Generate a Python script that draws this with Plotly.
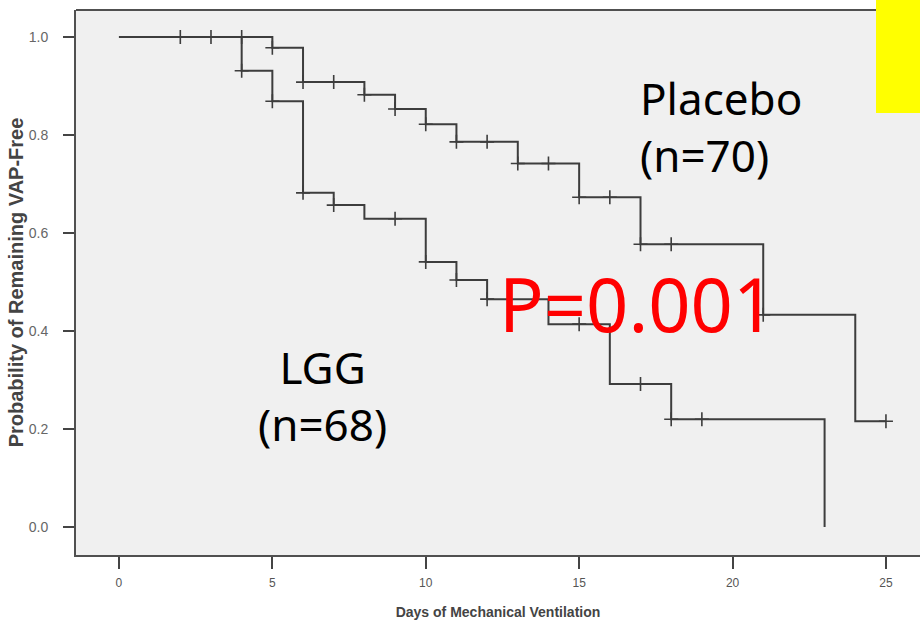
import plotly.graph_objects as go

# ---- data ----
placebo_times = [0, 5, 6, 8, 9, 10, 11, 13, 15, 17, 21, 24]
placebo_surv = [1.0, 0.978, 0.908, 0.882, 0.853, 0.822, 0.786, 0.742, 0.673, 0.577, 0.433, 0.216]
placebo_last = 25
placebo_censor = [2, 3, 4, 5, 6, 7, 8, 9, 10, 11, 12, 13, 14, 15, 16, 17, 18, 21, 25]

lgg_times = [0, 4, 5, 6, 7, 8, 10, 11, 12, 14, 16, 18, 23]
lgg_surv = [1.0, 0.931, 0.869, 0.682, 0.657, 0.629, 0.541, 0.504, 0.465, 0.414, 0.292, 0.220, 0.0]
lgg_last = 23
lgg_censor = [4, 5, 6, 7, 9, 10, 11, 12, 15, 17, 18, 19]

x_ticks = [0, 5, 10, 15, 20, 25]
y_ticks = [0.0, 0.2, 0.4, 0.6, 0.8, 1.0]
y_tick_labels = ["0.0", "0.2", "0.4", "0.6", "0.8", "1.0"]


def surv_at(times, surv, t):
    v = surv[0]
    for ti, si in zip(times, surv):
        if ti <= t:
            v = si
    return v


LINE = "#3d3d3d"
fig = go.Figure()

for times, surv, last, cens in [
    (placebo_times, placebo_surv, placebo_last, placebo_censor),
    (lgg_times, lgg_surv, lgg_last, lgg_censor),
]:
    xs = list(times) + ([last] if last > times[-1] else [])
    ys = list(surv) + ([surv[-1]] if last > times[-1] else [])
    fig.add_trace(go.Scatter(x=xs, y=ys, mode="lines", line=dict(shape="hv", color=LINE, width=2),
                             showlegend=False, hoverinfo="skip"))
    fig.add_trace(go.Scatter(x=cens, y=[surv_at(times, surv, t) for t in cens], mode="markers",
                             marker=dict(symbol="cross-thin", size=10, line=dict(width=1.6, color=LINE)),
                             showlegend=False, hoverinfo="skip"))

W, H = 920, 624
L, R, T, B = 76, 0, 10, 69
pw, ph = W - L - R, H - T - B


def px(x):
    return (x - L) / pw


def py(y):
    return (H - B - y) / ph


sans = "Liberation Sans, Arial"
comic = "Noto Sans, Open Sans, sans-serif"

fig.update_layout(
    width=W, height=H,
    margin=dict(l=L, r=R, t=T, b=B, pad=0),
    paper_bgcolor="white",
    plot_bgcolor="#f0f0f0",
    xaxis=dict(
        range=[-1.40, 26.11], tickvals=x_ticks, ticks="outside", ticklen=12, tickwidth=1.5,
        tickcolor="#444", showgrid=False, zeroline=False, showline=True, linecolor="#505050",
        linewidth=2, tickfont=dict(family=sans, size=12, color="#555"), ticklabelstandoff=4,
        title=dict(text="<b>Days of Mechanical Ventilation</b>", font=dict(family=sans, size=14, color="#444"),
                   standoff=18),
    ),
    yaxis=dict(
        range=[-0.0571, 1.0551], tickvals=y_ticks, ticktext=y_tick_labels, ticks="outside", ticklen=11,
        tickwidth=1.5, tickcolor="#444", showgrid=False, zeroline=False, showline=True,
        linecolor="#505050", linewidth=2, tickfont=dict(family=sans, size=14, color="#666"),
        ticklabelstandoff=12,
        title=dict(text="<b>Probability of Remaining VAP-Free</b>",
                   font=dict(family=sans, size=20, color="#444"), standoff=0),
    ),
    shapes=[
        dict(type="line", xref="paper", yref="paper", x0=0, x1=1, y0=1, y1=1,
             line=dict(color="#505050", width=2)),
        dict(type="rect", xref="paper", yref="paper", x0=px(876), x1=px(921), y0=py(113), y1=py(-2),
             fillcolor="#ffff00", line=dict(width=0), layer="above"),
    ],
    annotations=[
        dict(xref="paper", yref="paper", x=px(638), y=py(126), xanchor="left", yanchor="middle",
             text="Placebo<br>(n=70)", showarrow=False, align="left",
             font=dict(family=comic, size=44, color="black")),
        dict(xref="paper", yref="paper", x=px(322), y=py(396), xanchor="center", yanchor="middle",
             text="LGG<br>(n=68)", showarrow=False, align="center",
             font=dict(family=comic, size=44, color="black")),
        dict(xref="paper", yref="paper", x=px(637), y=py(303), xanchor="center", yanchor="middle",
             text="P=0.001", showarrow=False,
             font=dict(family=comic, size=74, color="#ff0000")),
    ],
)

fig.write_html("out.html", config={"displayModeBar": False},
               post_script="document.body.style.margin='0';document.body.style.overflow='hidden';")
